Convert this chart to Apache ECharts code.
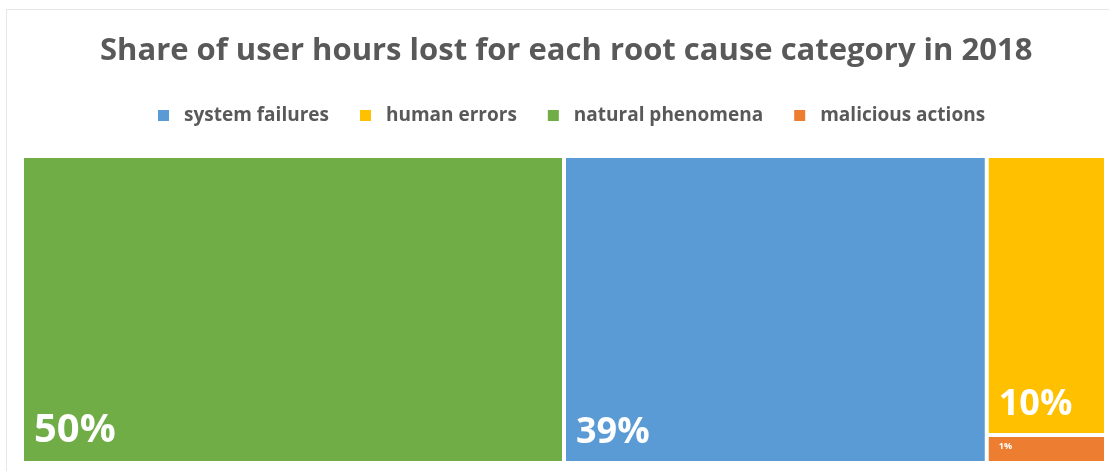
<!DOCTYPE html>
<html>
<head>
<meta charset="utf-8">
<script src="https://cdn.jsdelivr.net/npm/echarts@6/dist/echarts.min.js"></script>
<style>
  html, body { margin: 0; padding: 0; background: #fff; }
  #chart { width: 1109px; height: 471px; }
</style>
</head>
<body>
<div id="chart"></div>
<script>
// Root cause categories, in legend order
const categories = ['system failures', 'human errors', 'natural phenomena', 'malicious actions'];
// Share of user hours lost (%)
const shares = [39, 10, 50, 1];
const colors = ['#5B9BD5', '#FFC000', '#70AD47', '#ED7D31'];
const labelSizes = [36, 36, 40, 9];

const chart = echarts.init(document.getElementById('chart'));

const tiles = categories.map((name, i) => ({
  name: name,
  value: shares[i],
  itemStyle: { color: colors[i] },
  label: { fontSize: labelSizes[i] }
}));

// Empty helper series so the legend shows one square per category
const legendSeries = categories.map((name, i) => ({
  name: name,
  type: 'line',
  data: [],
  itemStyle: { color: colors[i] },
  lineStyle: { color: colors[i] }
}));

chart.setOption({
  animation: false,
  backgroundColor: '#ffffff',
  title: {
    text: 'Share of user hours lost for each root cause category in 2018',
    left: 95,
    top: 31,
    textStyle: {
      fontFamily: 'Open Sans',
      fontWeight: 'bold',
      fontSize: 31,
      color: '#595959'
    }
  },
  legend: {
    data: categories,
    top: 101,
    left: 153,
    icon: 'rect',
    itemWidth: 11,
    itemHeight: 11,
    itemGap: 31,
    textStyle: {
      fontFamily: 'Open Sans',
      fontWeight: 'bold',
      fontSize: 19,
      color: '#595959',
      padding: [0, 0, 0, 10]
    }
  },
  grid: { show: false, left: 0, top: 0, width: 1, height: 1 },
  xAxis: { show: false, type: 'value' },
  yAxis: { show: false, type: 'value' },
  graphic: [{
    type: 'rect',
    shape: { x: 6.5, y: 9.5, width: 1200, height: 600 },
    style: { fill: 'none', stroke: '#e6e6e6', lineWidth: 1 },
    silent: true
  }],
  series: [
    {
      type: 'treemap',
      left: 24,
      top: 158,
      right: 5,
      bottom: 10,
      roam: false,
      nodeClick: false,
      breadcrumb: { show: false },
      label: {
        show: true,
        position: 'insideBottomLeft',
        distance: 5,
        formatter: p => p.value + '%',
        fontFamily: 'Open Sans',
        fontWeight: 'bold',
        color: '#ffffff'
      },
      upperLabel: { show: false },
      levels: [
        { itemStyle: { borderWidth: 0, gapWidth: 4 } },
        { itemStyle: { borderWidth: 0, gapWidth: 0 } }
      ],
      data: tiles
    },
    ...legendSeries
  ]
});
</script>
</body>
</html>
